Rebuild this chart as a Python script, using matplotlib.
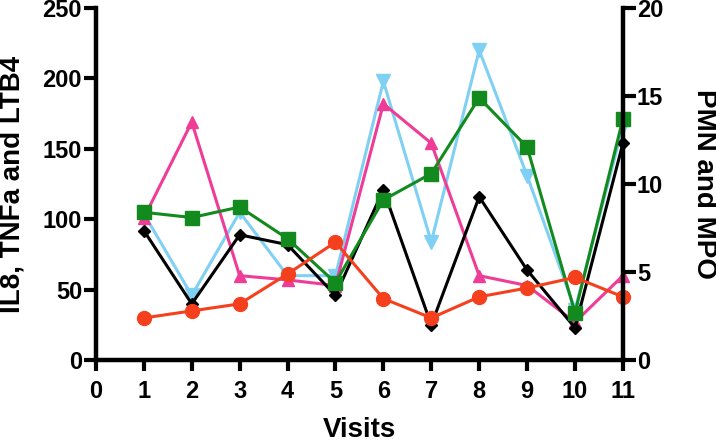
import matplotlib
matplotlib.use('Agg')
import matplotlib.pyplot as plt

plt.rcParams['font.family'] = ['Liberation Sans', 'DejaVu Sans']
plt.rcParams['font.weight'] = 'bold'

visits = [1, 2, 3, 4, 5, 6, 7, 8, 9, 10, 11]

# left axis series (IL8, TNFa, LTB4)
il8 = [92, 40, 89, 82, 46, 121, 25, 116, 64, 23, 154]
tnfa = [104, 46, 105, 60, 60, 198, 84, 220, 131, 36, 166]
ltb4 = [101, 169, 60, 57, 53, 182, 154, 60, 53, 27, 60]

# right axis series (PMN, MPO)
pmn = [8.4, 8.1, 8.7, 6.9, 4.4, 9.1, 10.6, 14.9, 12.1, 2.7, 13.7]
mpo = [2.4, 2.8, 3.2, 4.9, 6.7, 3.5, 2.4, 3.6, 4.1, 4.7, 3.6]

left_ticks = [0, 50, 100, 150, 200, 250]
right_ticks = [0, 5, 10, 15, 20]
x_ticks = list(range(0, 12))

fig = plt.figure(figsize=(7.16, 4.42), dpi=100)
ax = fig.add_axes([0.134, 0.185, 0.736, 0.797])

ax.plot(visits, tnfa, color='#80d0f4', lw=2.2, marker='v', ms=10, clip_on=False)
ax.plot(visits, ltb4, color='#ef3c97', lw=2.2, marker='^', ms=9, clip_on=False)
ax.plot(visits, il8, color='black', lw=2.2, marker='D', ms=6.5, clip_on=False)

ax.set_xlim(0, 11)
ax.set_ylim(0, 250)
ax.set_xticks(x_ticks)
ax.set_yticks(left_ticks)
for s in ['top', 'right']:
    ax.spines[s].set_visible(False)
for s in ['left', 'bottom']:
    ax.spines[s].set_linewidth(3.2)
ax.tick_params(axis='y', width=3, length=9, labelsize=17, pad=1)
ax.tick_params(axis='x', width=3, length=8, labelsize=17, pad=6)
ax.set_ylabel('IL8, TNFa and LTB4', fontsize=20, fontweight='bold', va='center')
ax.yaxis.set_label_coords(-0.159, 0.5)
ax.set_xlabel('Visits', fontsize=20, fontweight='bold', va='top')
ax.xaxis.set_label_coords(0.5, -0.162)

ax2 = ax.twinx()
ax2.plot(visits, pmn, color='#128a1d', lw=2.2, marker='s', ms=10, clip_on=False)
ax2.plot(visits, mpo, color='#f5401e', lw=2.2, marker='o', ms=10, clip_on=False)
ax2.set_ylim(0, 20)
ax2.set_yticks(right_ticks)
for s in ['top', 'left', 'bottom']:
    ax2.spines[s].set_visible(False)
ax2.spines['right'].set_linewidth(3.2)
ax2.tick_params(width=3, length=9, labelsize=17, pad=1)
ax2.set_ylabel('PMN and MPO', fontsize=20, fontweight='bold', rotation=270,
               va='center', ha='center')
ax2.yaxis.set_label_coords(1.154, 0.5)

for a in (ax, ax2):
    for lbl in a.get_xticklabels() + a.get_yticklabels():
        lbl.set_fontweight('bold')

fig.savefig('out.png', dpi=100)
